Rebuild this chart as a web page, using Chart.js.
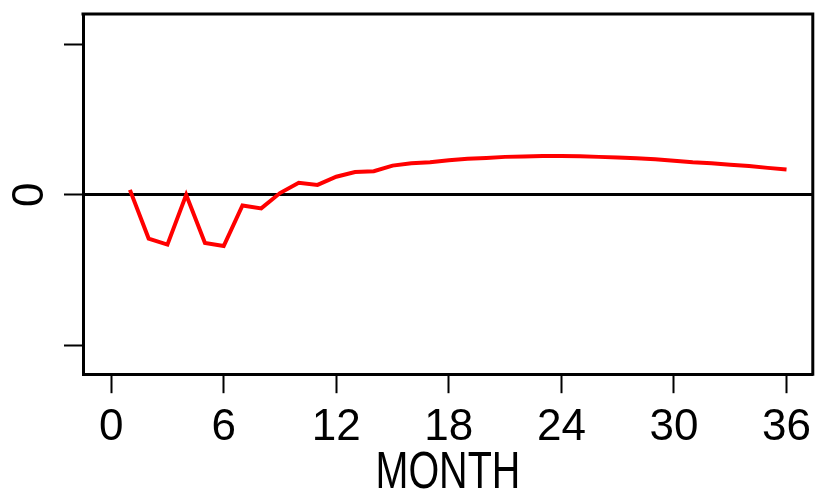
<!DOCTYPE html>
<html>
<head>
<meta charset="utf-8">
<script src="https://cdn.jsdelivr.net/npm/chart.js@4.4.1/dist/chart.umd.min.js"></script>
<style>
  html, body { margin: 0; padding: 0; background: #fff; }
  #wrap { width: 819px; height: 492px; }
</style>
</head>
<body>
<div id="wrap"><canvas id="chart" width="819" height="492"></canvas></div>
<script>
// ===== Data =====
const months = [1, 2, 3, 4, 5, 6, 7, 8, 9, 10, 11, 12, 13, 14, 15, 16, 17, 18,
    19, 20, 21, 22, 23, 24, 25, 26, 27, 28, 29, 30, 31, 32, 33, 34, 35, 36];
const response = [0.033, -0.29, -0.33, 0.0, -0.32, -0.34, -0.07, -0.09, 0.012, 0.08, 0.066, 0.12,
    0.152, 0.157, 0.194, 0.21, 0.216, 0.23, 0.24, 0.245, 0.252, 0.254, 0.257, 0.258,
    0.256, 0.252, 0.248, 0.243, 0.236, 0.227, 0.217, 0.21, 0.2, 0.191, 0.179, 0.168];
const xTicks = [0, 6, 12, 18, 24, 30, 36];
const yTicks = [-1, 0, 1];
const yTickLabels = ['', '0', ''];
const xTitle = 'MONTH';

const FONT = "'Liberation Sans', Arial, sans-serif";

// box (top + right edges), rotated y labels, condensed x title
const framePlugin = {
    id: 'frame',
    afterDraw(chart) {
        const { ctx, chartArea: a, scales } = chart;
        ctx.save();
        ctx.strokeStyle = '#000';
        ctx.lineWidth = 3;
        ctx.beginPath();
        ctx.moveTo(a.left - 1.5, a.top);
        ctx.lineTo(a.right, a.top);
        ctx.lineTo(a.right, a.bottom + 1.5);
        ctx.stroke();

        ctx.fillStyle = '#000';
        ctx.font = '44px ' + FONT;
        ctx.textAlign = 'center';
        ctx.textBaseline = 'middle';
        yTicks.forEach((v, i) => {
            if (!yTickLabels[i]) return;
            const y = scales.y.getPixelForValue(v);
            ctx.save();
            ctx.translate(29, y);
            ctx.rotate(-Math.PI / 2);
            ctx.fillText(yTickLabels[i], 0, 2);
            ctx.restore();
        });

        // x axis title, squeezed like the original
        ctx.save();
        ctx.font = '52px ' + FONT;
        ctx.textBaseline = 'alphabetic';
        ctx.translate((a.left + a.right) / 2, a.bottom + 114);
        ctx.scale(0.76, 1);
        ctx.fillText(xTitle, 0, 0);
        ctx.restore();
        ctx.restore();
    }
};

new Chart(document.getElementById('chart'), {
    type: 'line',
    data: {
        datasets: [{
            data: months.map((m, i) => ({ x: m, y: response[i] })),
            borderColor: '#ff0000',
            borderWidth: 4,
            pointRadius: 0,
            tension: 0,
            fill: false
        }]
    },
    options: {
        responsive: false,
        animation: false,
        layout: { padding: { left: 64, top: 14, right: 0, bottom: 30 } },
        plugins: {
            legend: { display: false },
            tooltip: { enabled: false }
        },
        scales: {
            x: {
                type: 'linear',
                min: -1.5,
                max: 37.4,
                afterBuildTicks: s => { s.ticks = xTicks.map(v => ({ value: v })); },
                grid: {
                    drawOnChartArea: false,
                    tickLength: 19,
                    tickColor: '#000',
                    tickWidth: 2
                },
                border: { display: true, color: '#000', width: 3 },
                ticks: {
                    color: '#000',
                    padding: 8,
                    maxRotation: 0,
                    font: { family: FONT, size: 44 }
                }
            },
            y: {
                min: -1.19,
                max: 1.2,
                afterBuildTicks: s => { s.ticks = yTicks.map(v => ({ value: v })); },
                grid: {
                    color: c => (c.tick && c.tick.value === 0) ? '#000' : 'rgba(0,0,0,0)',
                    lineWidth: 3,
                    tickLength: 19,
                    tickColor: '#000',
                    tickWidth: 2
                },
                border: { display: true, color: '#000', width: 3 },
                ticks: { display: false }
            }
        }
    },
    plugins: [framePlugin]
});
</script>
</body>
</html>
